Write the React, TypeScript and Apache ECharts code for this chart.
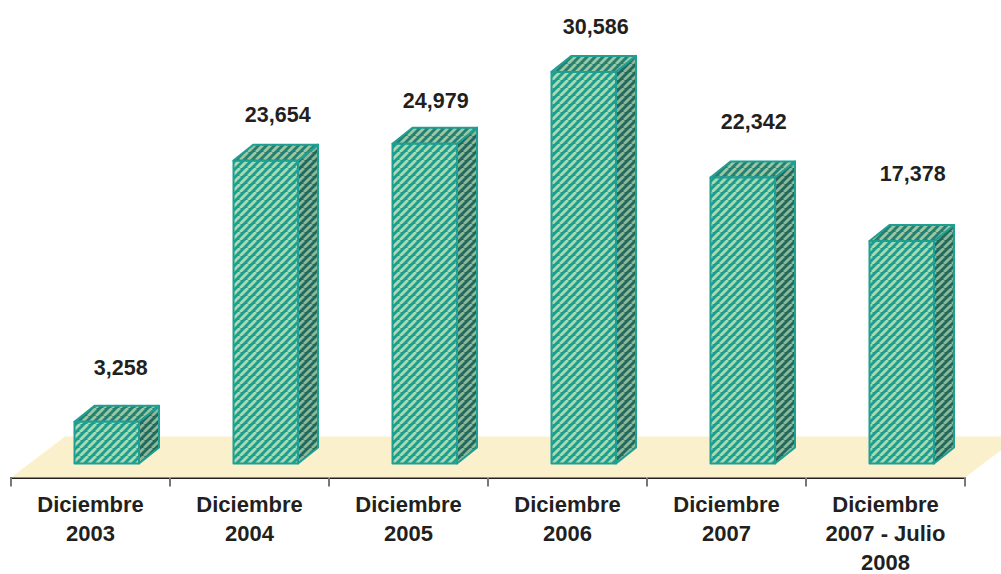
import React, { useEffect, useRef } from "react";
import * as echarts from "echarts";

const categories = ["Diciembre\n2003", "Diciembre\n2004", "Diciembre\n2005", "Diciembre\n2006", "Diciembre\n2007", "Diciembre\n2007 - Julio\n2008"];
const values = [3258, 23654, 24979, 30586, 22342, 17378];
const labelLift = [54, 46, 43, 45, 55, 67];
const labelShift = [14, 12, 11, 12, 11, 11];

const FONT = "'Liberation Sans', Arial, sans-serif";
const FRONT_W = 64.5;
const DX = 20;
const DY = 16;

function tile(light: string, dark: string) {
  const size = 8;
  const c = document.createElement("canvas");
  c.width = size;
  c.height = size;
  const g = c.getContext("2d")!;
  g.fillStyle = dark;
  g.fillRect(0, 0, size, size);
  g.strokeStyle = light;
  g.lineWidth = 2.8;
  for (let i = -size; i <= size * 2; i += size) {
    g.beginPath();
    g.moveTo(i, size);
    g.lineTo(i + size, 0);
    g.stroke();
  }
  return c.toDataURL();
}

export default function App() {
  const ref = useRef<HTMLDivElement>(null);
  useEffect(() => {
    const chart = echarts.init(ref.current!, null, { renderer: "svg" });
    const frontFill = { image: tile("#a6dcb4", "#1f9c8e"), repeat: "repeat" };
    const topFill = { image: tile("#98c8a4", "#277f72"), repeat: "repeat" };
    const sideFill = { image: tile("#8cb89a", "#23685c"), repeat: "repeat" };
    const edge = { stroke: "#1f9e92", lineWidth: 2, lineJoin: "round" };
    chart.setOption({
      animation: false,
      backgroundColor: "#ffffff",
      grid: { left: 11, top: 53.8, width: 954, height: 423.7, outerBoundsMode: "none", containLabel: false },
      xAxis: {
        type: "category",
        data: categories,
        axisLine: { onZero: false, lineStyle: { color: "#231f20", width: 2 } },
        axisTick: { show: true, alignWithLabel: false, interval: 0, length: 9, lineStyle: { color: "#777777", width: 2 } },
        axisLabel: {
          interval: 0,
          margin: 12,
          color: "#231f20",
          fontFamily: FONT,
          fontWeight: "bold",
          fontSize: 22,
          lineHeight: 29,
          verticalAlign: "top",
        },
      },
      yAxis: { type: "value", min: -1100, max: 32000, show: false, splitLine: { show: false } },
      series: [
        {
          type: "custom",
          silent: true,
          clip: false,
          z: 1,
          data: [0],
          renderItem: (params: any) => {
            const cs = params.coordSys;
            const b = cs.y + cs.height;
            return {
              type: "polygon",
              shape: { points: [[cs.x, b], [cs.x + cs.width, b], [cs.x + cs.width + 54, b - 41], [cs.x + 54, b - 41]] },
              style: { fill: "#faf1cc" },
            };
          },
        },
        {
          type: "custom",
          clip: false,
          z: 2,
          data: values.map((v, i) => [i, v]),
          renderItem: (params: any, api: any) => {
            const i = api.value(0);
            const v = api.value(1);
            const band = api.size([1, 0])[0];
            const center = api.coord([i, 0])[0];
            const yBase = api.coord([i, 0])[1];
            const yTop = api.coord([i, v])[1];
            const x0 = center - band / 2 + 63.5;
            const x1 = x0 + FRONT_W;
            return {
              type: "group",
              children: [
                {
                  type: "polygon",
                  shape: { points: [[x1, yTop], [x1 + DX, yTop - DY], [x1 + DX, yBase - DY], [x1, yBase]] },
                  style: { fill: sideFill, ...edge },
                },
                {
                  type: "polygon",
                  shape: { points: [[x0, yTop], [x0 + DX, yTop - DY], [x1 + DX, yTop - DY], [x1, yTop]] },
                  style: { fill: topFill, ...edge },
                },
                {
                  type: "polygon",
                  shape: { points: [[x0, yTop], [x1, yTop], [x1, yBase], [x0, yBase]] },
                  style: { fill: frontFill, ...edge },
                },
                {
                  type: "text",
                  style: {
                    x: x0 + FRONT_W / 2 + labelShift[i],
                    y: yTop - labelLift[i],
                    text: v.toLocaleString("en-US"),
                    fill: "#231f20",
                    font: `bold 21.5px ${FONT}`,
                    align: "center",
                    verticalAlign: "middle",
                  },
                },
              ],
            };
          },
        },
      ],
    });
    return () => chart.dispose();
  }, []);
  return <div ref={ref} style={{ position: "fixed", left: 0, top: 0, width: 1001, height: 574 }} />;
}
